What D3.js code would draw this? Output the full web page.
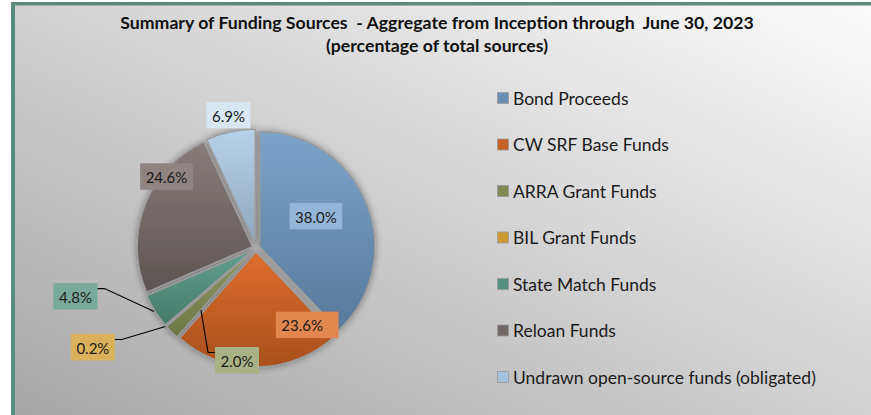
<!DOCTYPE html>
<html><head><meta charset="utf-8">
<script src="https://cdn.jsdelivr.net/npm/d3@7"></script>
<style>body{margin:0;background:#fff}svg{display:block}</style>
</head><body>
<svg id="c" width="871" height="415"></svg>
<script>
// ---- data ----
const categories = ["Bond Proceeds","CW SRF Base Funds","ARRA Grant Funds","BIL Grant Funds","State Match Funds","Reloan Funds","Undrawn open-source funds (obligated)"];
const values = [38.0, 23.6, 2.0, 0.2, 4.8, 24.6, 6.9];
const valueLabels = ["38.0%","23.6%","2.0%","0.2%","4.8%","24.6%","6.9%"];
const titleLines = ["Summary of Funding Sources  - Aggregate from Inception through  June 30, 2023","(percentage of total sources)"];

// ---- styles ----
const sliceTop    = ["#7ca4c9","#df6e2c","#8f9a62","#dcaa3e","#62a090","#877c7a","#b6d2ea"];
const sliceBottom = ["#58799a","#a94f1d","#6c7646","#b88a26","#477868","#5d5452","#8ea6bc"];
const legendFill  = ["#6a8fb2","#c85f25","#7f8a56","#cc9a33","#559080","#716765","#a6c2dc"];
const labelFill   = ["#93b6d8","#e2874f","#a9b285","#dab25b","#79a99a","#8f8482","#d8e7f3"];
// label placement (angle deg clockwise from 12 o'clock, distance as fraction of radius)
const labelAngle  = [62, 149, 189.6, 238.7, 255, 308.6, 348.3];
const labelDist   = [0.59, 0.78, 0.99, 1.66, 1.625, 0.996, 1.18];
const labelExtraW = [0, 10, 0, 0, 0, 0, 0];
const leaderSide  = [null, null, "left", "right", "right", null, null];

const W = 871, H = 415;
const cx = 256, cy = 248, R = 115, explode = 4;
const svg = d3.select("#c");
const defs = svg.append("defs");

// background
const bg = defs.append("linearGradient").attr("id","bg")
  .attr("x1",1).attr("y1",0).attr("x2",0).attr("y2",1);
bg.append("stop").attr("offset",0).attr("stop-color","#fcfcfc");
bg.append("stop").attr("offset",1).attr("stop-color","#a7a7a7");
svg.append("rect").attr("x",13).attr("y",3).attr("width",W-13).attr("height",H-3).attr("fill","url(#bg)");
svg.append("rect").attr("x",11).attr("y",2).attr("width",W-11).attr("height",3.5).attr("fill","#5d8a7e");
svg.append("rect").attr("x",11).attr("y",2).attr("width",4).attr("height",H-2).attr("fill","#5d8a7e");

// title
svg.append("g").selectAll("text").data(titleLines).join("text")
  .attr("x",437).attr("y",(d,i)=>29+i*23)
  .attr("text-anchor","middle")
  .style("white-space","pre")
  .attr("font-family","Lato, 'Open Sans', sans-serif")
  .attr("font-weight","bold").attr("font-size",17.7).attr("fill","#111")
  .text(d=>d);

// shadow
const f = defs.append("filter").attr("id","sh").attr("x","-20%").attr("y","-20%").attr("width","140%").attr("height","140%");
f.append("feDropShadow").attr("dx",0).attr("dy",0).attr("stdDeviation",3.5).attr("flood-color","#000").attr("flood-opacity",0.4);

values.forEach((v,i)=>{
  const g = defs.append("linearGradient").attr("id","sg"+i).attr("x1",0).attr("y1",0).attr("x2",0).attr("y2",1);
  g.append("stop").attr("offset",0).attr("stop-color",sliceTop[i]);
  g.append("stop").attr("offset",1).attr("stop-color",sliceBottom[i]);
});

const pie = d3.pie().sort(null).value(d=>d);
const arcs = pie(values);
const arc = d3.arc().innerRadius(0).outerRadius(R);
const mid = a => (a.startAngle+a.endAngle)/2;
const polar = (ang, r) => [cx + r*Math.sin(ang), cy - r*Math.cos(ang)];

const pg = svg.append("g").attr("filter","url(#sh)");
pg.selectAll("path").data(arcs).join("path")
  .attr("transform", d => { const m = mid(d); return `translate(${cx+explode*Math.sin(m)},${cy-explode*Math.cos(m)})`; })
  .attr("d", arc)
  .attr("fill",(d,i)=>`url(#sg${i})`)
  .attr("stroke","#9a9a9a").attr("stroke-width",1.3).attr("stroke-linejoin","round");

// labels
const lg = svg.append("g");
arcs.forEach((a,i)=>{
  const ang = labelAngle[i]*Math.PI/180;
  const [lx, ly] = polar(ang, labelDist[i]*R);
  const t = lg.append("text").attr("font-family","Lato, sans-serif").attr("font-size",15).attr("fill","#1b1b1b")
    .attr("text-anchor","middle").attr("dominant-baseline","central").text(valueLabels[i]);
  const tw = t.node().getComputedTextLength();
  const bw = tw + 11 + labelExtraW[i], bh = 26.5;
  const bx = lx - (tw+11)/2, by = ly - bh/2;
  lg.insert("rect", () => t.node()).attr("x",bx).attr("y",by).attr("width",bw).attr("height",bh).attr("fill",labelFill[i]);
  t.attr("x",lx).attr("y",ly+0.5);
  if (leaderSide[i]) {
    let pts;
    if (leaderSide[i]==="right") {
      const ex = polar(mid(a), R + explode + 1);
      pts = [[bx+bw, by+5.5],[bx+bw+7, by+5.5], ex];
    } else {
      const ex = polar(mid(a)-0.06, R*0.72);
      pts = [[bx, by+5.5],[bx-7, by+5.5], ex];
    }
    lg.append("path").attr("d", d3.line()(pts)).attr("fill","none").attr("stroke","#000").attr("stroke-width",1.1);
  }
});

// legend
const leg = svg.append("g");
categories.forEach((c,i)=>{
  const y = 98 + i*46.5;
  leg.append("rect").attr("x",497.5).attr("y",y-5.5).attr("width",11).attr("height",11)
    .attr("fill",legendFill[i]).attr("stroke","#9a9a9a").attr("stroke-width",0.8);
  leg.append("text").attr("x",513).attr("y",y).attr("dominant-baseline","central")
    .attr("font-family","Lato, sans-serif").attr("font-size",17.5).attr("fill","#1b1b1b").text(c);
});
</script>
</body></html>
